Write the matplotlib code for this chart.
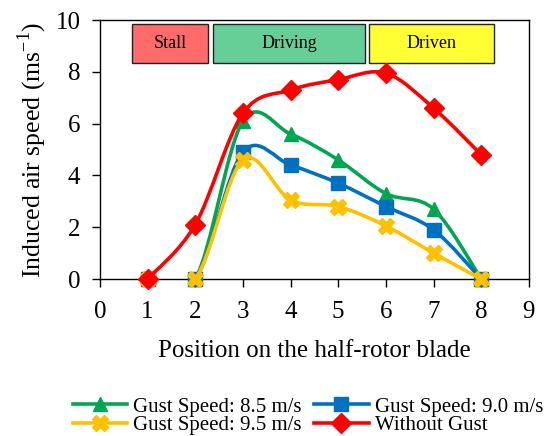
import numpy as np
import matplotlib
matplotlib.use("Agg")
import matplotlib.pyplot as plt
from matplotlib.path import Path
from matplotlib.patches import PathPatch, Rectangle
from matplotlib.lines import Line2D

plt.rcParams['font.family'] = ['Liberation Serif', 'DejaVu Serif']

positions = [1, 2, 3, 4, 5, 6, 7, 8]
gust_85 = [0, 0, 6.1, 5.6, 4.6, 3.3, 2.7, 0]
gust_90 = [0, 0, 4.9, 4.4, 3.7, 2.8, 1.9, 0]
gust_95 = [0, 0, 4.6, 3.05, 2.8, 2.05, 1.0, 0]
no_gust = [0, 2.1, 6.4, 7.3, 7.7, 7.95, 6.6, 4.8]

series_labels = ["Gust Speed: 8.5 m/s", "Gust Speed: 9.0 m/s",
                 "Gust Speed: 9.5 m/s", "Without Gust"]
series_colors = ["#00A651", "#0070C0", "#FFC000", "#FF0000"]
series_markers = ["^", "s", "X", "D"]

regions = ["Stall", "Driving", "Driven"]
region_spans = [(0.67, 2.27), (2.38, 5.56), (5.65, 8.26)]
region_colors = ["#FF6B6B", "#66CF97", "#FFFF33"]


def smooth_path(xs, ys, tension=1/6):
    """Cubic Bezier path through points (Catmull-Rom style smoothing)."""
    pts = np.column_stack([xs, ys]).astype(float)
    n = len(pts)
    verts = [pts[0]]
    codes = [Path.MOVETO]
    for i in range(n - 1):
        p0 = pts[i - 1] if i > 0 else pts[i]
        p1 = pts[i]
        p2 = pts[i + 1]
        p3 = pts[i + 2] if i + 2 < n else pts[i + 1]
        c1 = p1 + (p2 - p0) * tension
        c2 = p2 - (p3 - p1) * tension
        verts += [c1, c2, p2]
        codes += [Path.CURVE4] * 3
    return Path(verts, codes)


fig = plt.figure(figsize=(5.55, 4.36), dpi=100)
ax = fig.add_axes([0.180, 0.360, 0.773, 0.594])

all_series = [gust_85, gust_90, gust_95, no_gust]
handles = []
for idx, ys in enumerate(all_series):
    c = series_colors[idx]
    ax.add_patch(PathPatch(smooth_path(positions, ys), facecolor="none",
                           edgecolor=c, lw=2.6, zorder=3 + idx))
    ms = 12 if series_markers[idx] == "X" else 10
    ax.plot(positions, ys, linestyle="none", marker=series_markers[idx],
            color=c, markersize=ms, zorder=3 + idx, clip_on=False)
    handles.append(Line2D([], [], color=c, lw=2.6, marker=series_markers[idx],
                          markersize=ms))

for name, (x0, x1), col in zip(regions, region_spans, region_colors):
    ax.add_patch(Rectangle((x0, 8.34), x1 - x0, 1.5, facecolor=col,
                           edgecolor="#222222", lw=1.0, zorder=2))
    ax.text((x0 + x1) / 2, 9.09, name, ha="center", va="center",
            fontsize=13, zorder=3)

ax.set_xlim(0, 9)
ax.set_ylim(0, 10)
ax.set_xticks(range(0, 10))
ax.set_yticks(range(0, 11, 2))
ax.tick_params(axis="both", direction="out", length=6, width=1,
               labelsize=18)
ax.tick_params(axis="x", pad=10)
ax.tick_params(axis="y", pad=8)
for s in ax.spines.values():
    s.set_linewidth(1)
ax.set_xlabel("Position on the half-rotor blade", fontsize=18, labelpad=12)
ax.set_ylabel("Induced air speed (ms$^{\\mathregular{-1}}$)", fontsize=18.5,
              labelpad=5)

# legend is filled column by column: reorder so rows read 8.5/9.0, 9.5/none
leg_order = [0, 2, 1, 3]
fig.legend([handles[i] for i in leg_order],
           [series_labels[i] for i in leg_order],
           ncol=2, loc="upper left", bbox_to_anchor=(73 / 555, 1 - 397 / 436),
           frameon=False, fontsize=15, handlelength=2.6, handletextpad=0.3,
           columnspacing=0.6, labelspacing=-0.05, borderaxespad=0,
           borderpad=0)

fig.savefig("out.png", dpi=100)
